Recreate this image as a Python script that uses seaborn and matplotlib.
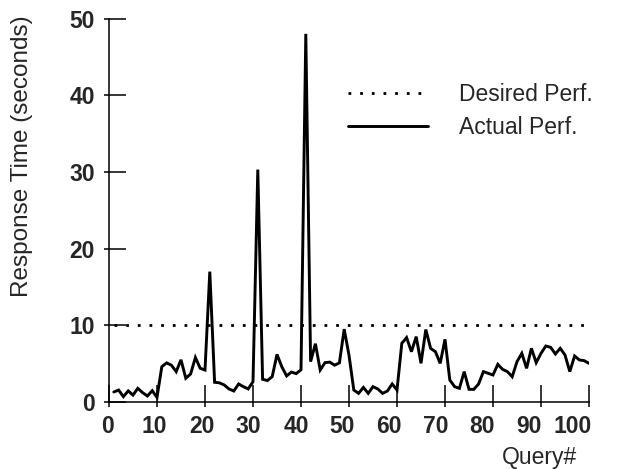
import matplotlib
matplotlib.use("Agg")

import matplotlib.pyplot as plt
import matplotlib.transforms as mtransforms
import numpy as np
import pandas as pd
import seaborn as sns
from matplotlib.ticker import FixedLocator

# ---------------------------------------------------------------------------
# Data
# ---------------------------------------------------------------------------
queries = list(range(1, 101))
actual_perf = [
    1.3, 1.56, 0.7, 1.45, 0.9, 1.78, 1.22, 0.78, 1.48, 0.6,
    4.6, 5.1, 4.8, 3.96, 5.5, 3.1, 3.65, 5.8, 4.4, 4.17,
    17.0, 2.57, 2.5, 2.22, 1.7, 1.43, 2.35, 2.0, 1.7, 2.65,
    30.3, 2.96, 2.8, 3.3, 6.2, 4.6, 3.4, 3.9, 3.7, 4.2,
    48.0, 5.26, 7.6, 4.17, 5.13, 5.2, 4.8, 5.1, 9.5, 6.1,
    1.56, 1.13, 1.9, 1.13, 2.0, 1.7, 1.13, 1.43, 2.35, 1.56,
    7.65, 8.4, 6.56, 8.52, 5.04, 9.45, 7.0, 6.56, 5.04, 8.17,
    2.87, 2.0, 1.78, 3.96, 1.65, 1.65, 2.35, 3.96, 3.74, 3.52,
    4.91, 4.26, 3.96, 3.3, 5.26, 6.34, 4.39, 7.0, 5.13, 6.34,
    7.3, 7.13, 6.26, 7.0, 6.13, 3.96, 6.0, 5.48, 5.39, 5.04,
]
desired_perf = [10] * len(queries)

x_ticks = [0, 10, 20, 30, 40, 50, 60, 70, 80, 90, 100]
y_ticks = [0, 10, 20, 30, 40, 50]
# the original's x tick labels drift left of their ticks (pixels)
x_label_shift = [-1, -3, -3.5, -4.5, -5, -7, -8, -9, -10.5, -12, -16]

# ---------------------------------------------------------------------------
# Styling
# ---------------------------------------------------------------------------
sns.set_style("ticks")
plt.rcParams["font.family"] = ["Liberation Sans", "DejaVu Sans"]
FS = 16.5
LW_AXIS = 1.1

df = pd.DataFrame({"query": queries, "actual": actual_perf, "desired": desired_perf})

fig = plt.figure(figsize=(6.17, 4.69), dpi=100)
ax = fig.add_axes([109 / 617, 1 - 402 / 469, 480 / 617, 383.5 / 469])

sns.lineplot(
    data=df, x="query", y="desired", ax=ax, color="black",
    linewidth=2.0, linestyle=(0, (1, 3.2)), label="Desired Perf.",
)
sns.lineplot(
    data=df, x="query", y="actual", ax=ax, color="black",
    linewidth=2.1, label="Actual Perf.",
)
for line in ax.get_lines():
    line.set_dash_capstyle("butt")
    line.set_solid_joinstyle("miter")

ax.set_xlim(0, 100)
ax.set_ylim(0, 50)
ax.set_xticks(x_ticks)
ax.set_yticks(y_ticks)
ax.set_xticklabels([])
ax.set_yticklabels([str(t) for t in y_ticks], fontsize=FS, fontweight="bold")

# x tick labels drawn as text so they can sit where the original put them
base = ax.get_xaxis_transform()
for t, dx in zip(x_ticks, x_label_shift):
    offset = mtransforms.ScaledTranslation(dx / 100, -0.13, fig.dpi_scale_trans)
    ax.text(t, 0, str(t), transform=base + offset, ha="center", va="top",
            fontsize=FS, fontweight="bold", clip_on=False)

# inward major ticks with a short stub poking outside
ax.xaxis.set_minor_locator(FixedLocator(x_ticks))
ax.yaxis.set_minor_locator(FixedLocator(y_ticks))
ax.xaxis.remove_overlapping_locs = False
ax.yaxis.remove_overlapping_locs = False
ax.tick_params(which="major", direction="in", length=12, width=LW_AXIS, color="black")
ax.tick_params(axis="y", which="major", pad=10)
ax.tick_params(which="minor", direction="out", length=3.6, width=LW_AXIS, color="black")

sns.despine(ax=ax)
for side in ("left", "bottom"):
    ax.spines[side].set_linewidth(LW_AXIS)
    ax.spines[side].set_color("black")

ax.set_ylabel("Response Time (seconds)", fontsize=17.5)
ax.yaxis.set_label_coords(-0.158, 0.641)
ax.set_xlabel("Query#", fontsize=FS)
ax.xaxis.label.set_horizontalalignment("right")
ax.xaxis.set_label_coords(0.975, -0.115)

ax.legend(
    loc="center left", bbox_to_anchor=(348 / 617, 1 - 111 / 469),
    bbox_transform=fig.transFigure, frameon=False, fontsize=FS,
    handlelength=3.5, handletextpad=1.35, labelspacing=0.4,
    borderpad=0, borderaxespad=0,
)

fig.savefig("out.png", dpi=100, facecolor="white")
